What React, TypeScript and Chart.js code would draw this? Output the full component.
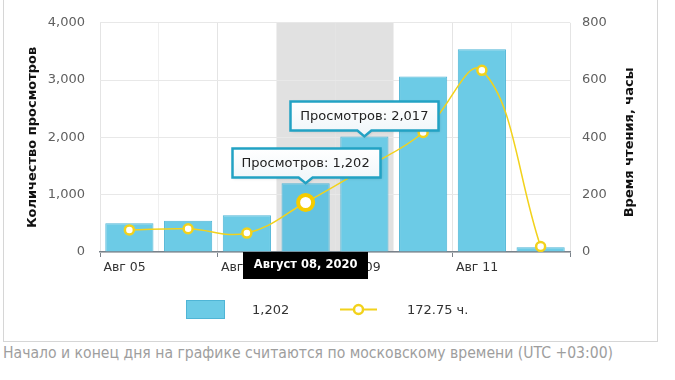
import React, { useEffect, useRef } from 'react';
import { Chart, registerables } from 'chart.js';

Chart.register(...registerables);

const categories = ['Авг 05', 'Авг 06', 'Авг 07', 'Авг 08', 'Авг 09', 'Авг 10', 'Авг 11', 'Авг 12'];
const views = [500, 545, 640, 1202, 2017, 3065, 3540, 85];
const hours = [77, 81, 66, 172.75, 291, 417, 634, 19];
const hoverIndex = 3;
const calloutIndices = [3, 4];
const calloutPrefix = 'Просмотров: ';
const hoverDateLabel = 'Август 08, 2020';
const legendViews = '1,202';
const legendHours = '172.75 ч.';
const leftTitle = 'Количество просмотров';
const rightTitle = 'Время чтения, часы';
const footerText = 'Начало и конец дня на графике считаются по московскому времени (UTC +03:00)';

const FONT = '"DejaVu Sans", Verdana, sans-serif';
const BAR_FILL = '#6ccbe6';
const BAR_BORDER = '#4fb5d6';
const LINE = '#f2d21c';

const fmt = (v: number) => Number(v).toLocaleString('en-US');

function drawCallout(ctx: CanvasRenderingContext2D, cx: number, tipY: number, text: string) {
  ctx.save();
  ctx.font = `13px ${FONT}`;
  const tw = ctx.measureText(text).width;
  const w = Math.round(tw + 20);
  const h = 29;
  const arrowH = 6;
  const arrowW = 7;
  const left = Math.round(cx - w / 2) + 0.5;
  const bottom = Math.round(tipY - arrowH) + 0.5;
  const top = bottom - h;
  ctx.beginPath();
  ctx.moveTo(left, top);
  ctx.lineTo(left + w, top);
  ctx.lineTo(left + w, bottom);
  ctx.lineTo(cx + arrowW, bottom);
  ctx.lineTo(cx, tipY);
  ctx.lineTo(cx - arrowW, bottom);
  ctx.lineTo(left, bottom);
  ctx.closePath();
  ctx.shadowColor = 'rgba(0,0,0,0.18)';
  ctx.shadowBlur = 3;
  ctx.shadowOffsetX = 1;
  ctx.shadowOffsetY = 1;
  const g = ctx.createLinearGradient(0, top, 0, bottom);
  g.addColorStop(0, '#ffffff');
  g.addColorStop(1, '#f1f7fa');
  ctx.fillStyle = g;
  ctx.fill();
  ctx.shadowColor = 'transparent';
  ctx.lineWidth = 2.5;
  ctx.strokeStyle = '#22a2c4';
  ctx.stroke();
  ctx.fillStyle = '#222';
  ctx.textAlign = 'center';
  ctx.textBaseline = 'middle';
  ctx.fillText(text, cx, (top + bottom) / 2 + 0.5);
  ctx.restore();
}

const overlay = {
  id: 'overlay',
  beforeDraw(chart: any) {
    const { ctx, chartArea, scales } = chart;
    const x = scales.x;
    const w = x.getPixelForValue(1) - x.getPixelForValue(0);
    const l = x.getPixelForValue(calloutIndices[0]) - w / 2;
    const r = x.getPixelForValue(calloutIndices[calloutIndices.length - 1]) + w / 2;
    ctx.save();
    ctx.fillStyle = '#e1e1e1';
    ctx.fillRect(l, chartArea.top, r - l, chartArea.bottom - chartArea.top);
    ctx.restore();
  },
  afterDraw(chart: any) {
    const { ctx, chartArea, scales } = chart;
    const x = scales.x;
    const y = scales.y;
    const midY = (chartArea.top + chartArea.bottom) / 2;

    // axis titles
    ctx.save();
    ctx.font = `bold 13px ${FONT}`;
    ctx.fillStyle = '#111';
    ctx.textAlign = 'center';
    ctx.textBaseline = 'middle';
    ctx.translate(32.5, midY);
    ctx.rotate(-Math.PI / 2);
    ctx.fillText(leftTitle, 0, 0);
    ctx.restore();
    ctx.save();
    ctx.font = `bold 13px ${FONT}`;
    ctx.fillStyle = '#111';
    ctx.textAlign = 'center';
    ctx.textBaseline = 'middle';
    ctx.translate(630, midY + 5);
    ctx.rotate(-Math.PI / 2);
    ctx.fillText(rightTitle, 0, 0);
    ctx.restore();

    // callouts
    calloutIndices.forEach((i) => {
      drawCallout(ctx, x.getPixelForValue(i), y.getPixelForValue(views[i]), calloutPrefix + fmt(views[i]));
    });

    // date label on the x axis
    ctx.save();
    ctx.font = `bold 11.5px ${FONT}`;
    const dw = Math.round(ctx.measureText(hoverDateLabel).width + 21);
    const dcx = x.getPixelForValue(hoverIndex);
    const dtop = Math.round(chartArea.bottom);
    ctx.fillStyle = '#000';
    ctx.fillRect(Math.round(dcx - dw / 2), dtop, dw, 27);
    ctx.fillStyle = '#fff';
    ctx.textAlign = 'center';
    ctx.textBaseline = 'middle';
    ctx.fillText(hoverDateLabel, dcx, dtop + 13.5);
    ctx.restore();

    // legend
    ctx.save();
    const ly = 309.5;
    ctx.fillStyle = BAR_FILL;
    ctx.fillRect(186, 300, 39, 19);
    ctx.strokeStyle = BAR_BORDER;
    ctx.lineWidth = 1;
    ctx.strokeRect(186.5, 300.5, 38, 18);
    ctx.font = `13px ${FONT}`;
    ctx.fillStyle = '#333';
    ctx.textAlign = 'left';
    ctx.textBaseline = 'middle';
    ctx.fillText(legendViews, 252, ly + 1);
    ctx.strokeStyle = LINE;
    ctx.lineWidth = 2;
    ctx.beginPath();
    ctx.moveTo(340, ly);
    ctx.lineTo(377, ly);
    ctx.stroke();
    ctx.beginPath();
    ctx.arc(358.5, ly, 4.5, 0, Math.PI * 2);
    ctx.fillStyle = '#fff';
    ctx.fill();
    ctx.lineWidth = 2.5;
    ctx.strokeStyle = LINE;
    ctx.stroke();
    ctx.fillStyle = '#333';
    ctx.fillText(legendHours, 407, ly + 1);
    ctx.restore();
  },
};

export default function App() {
  const ref = useRef<HTMLCanvasElement | null>(null);

  useEffect(() => {
    document.body.style.margin = '0';
    if (!ref.current) return;
    const pointRadius = hours.map((_, i) => (i === hoverIndex ? 7.5 : i === 4 ? 3.5 : 4.5));
    const pointBorderWidth = hours.map((_, i) => (i === hoverIndex ? 4 : i === 4 ? 1.5 : 2.5));
    const pointBorderColor = hours.map((_, i) => (i === hoverIndex ? '#f5cc00' : i === 4 ? '#f7e690' : LINE));
    const barColors = views.map((_, i) => (i === hoverIndex ? '#64c3e1' : BAR_FILL));
    const evenColor = (c: any, on: string, off: string) =>
      c.index === undefined || c.index % 2 === 0 ? on : off;

    const chart = new Chart(ref.current, {
      data: {
        labels: categories,
        datasets: [
          {
            type: 'line',
            label: 'Время чтения',
            data: hours,
            yAxisID: 'y1',
            order: 0,
            borderColor: LINE,
            borderWidth: 1.5,
            tension: 0.4,
            fill: false,
            pointRadius,
            pointBorderWidth,
            pointBorderColor,
            pointBackgroundColor: '#ffffff',
          } as any,
          {
            type: 'bar',
            label: 'Просмотров',
            data: views,
            yAxisID: 'y',
            order: 1,
            backgroundColor: barColors,
            borderColor: BAR_BORDER,
            borderWidth: 1,
            barPercentage: 0.82,
            categoryPercentage: 1,
          } as any,
        ],
      },
      options: {
        animation: false,
        responsive: true,
        maintainAspectRatio: false,
        events: [],
        layout: { padding: { left: 10, right: 35, top: 21, bottom: 58 } },
        plugins: { legend: { display: false }, tooltip: { enabled: false } },
        scales: {
          x: {
            type: 'category',
            offset: true,
            grid: {
              offset: true,
              color: (c: any) => evenColor(c, '#e4e4e4', '#efefef'),
              tickColor: (c: any) => evenColor(c, '#7a828a', 'rgba(0,0,0,0)'),
              tickLength: 5,
            },
            border: { color: '#7a828a', width: 1.5 },
            ticks: {
              autoSkip: false,
              maxRotation: 0,
              align: 'start',
              labelOffset: -26,
              padding: 3,
              color: '#333',
              font: { family: FONT, size: 12.5 },
              callback: (_v: any, i: number) => (i % 2 === 0 ? categories[i] : ''),
            },
            afterFit: (s: any) => {
              s.height = 30;
            },
          },
          y: {
            type: 'linear',
            position: 'left',
            min: 0,
            max: 4000,
            grid: { color: '#e8e8e8', drawTicks: false },
            border: { display: false },
            ticks: {
              stepSize: 1000,
              padding: 15,
              color: '#606060',
              font: { family: FONT, size: 13 },
              callback: (v: any) => fmt(v),
            },
            afterFit: (s: any) => {
              s.width = 90;
            },
          },
          y1: {
            type: 'linear',
            position: 'right',
            min: 0,
            max: 800,
            grid: { drawOnChartArea: false, drawTicks: false },
            border: { display: false },
            ticks: {
              stepSize: 200,
              padding: 12,
              color: '#606060',
              font: { family: FONT, size: 13 },
              callback: (v: any) => fmt(v),
            },
            afterFit: (s: any) => {
              s.width = 70;
            },
          },
        },
      } as any,
      plugins: [overlay],
    });
    return () => chart.destroy();
  }, []);

  return (
    <div style={{ position: 'relative', width: 675, height: 380, overflow: 'hidden', background: '#fff' }}>
      <div
        style={{
          position: 'absolute',
          left: 3,
          top: -2,
          width: 653,
          height: 342,
          border: '1px solid #d6d6d6',
        }}
      />
      <div style={{ position: 'absolute', left: 0, top: 0, width: 675, height: 340 }}>
        <canvas ref={ref} />
      </div>
      <div
        style={{
          position: 'absolute',
          left: 3,
          top: 343,
          whiteSpace: 'nowrap',
          fontFamily: '"DejaVu Sans Condensed", "DejaVu Sans", sans-serif',
          fontSize: 15.6,
          lineHeight: '20px',
          color: '#9e9e9e',
        }}
      >
        {footerText}
      </div>
    </div>
  );
}
